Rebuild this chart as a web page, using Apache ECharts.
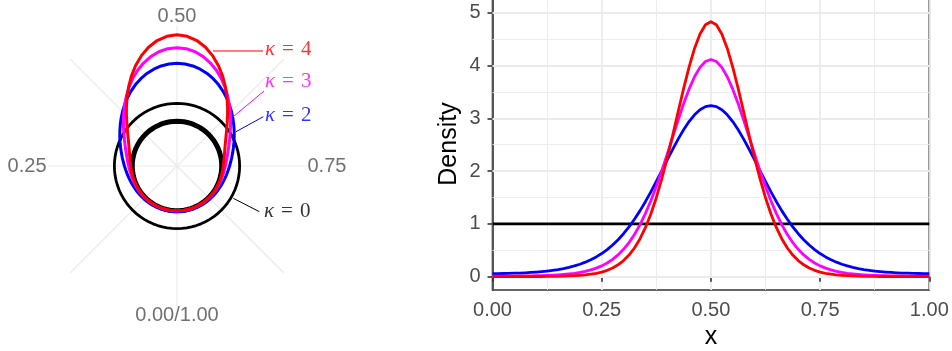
<!DOCTYPE html>
<html><head><meta charset="utf-8">
<script src="https://cdn.jsdelivr.net/npm/echarts@6/dist/echarts.min.js"></script>
<style>html,body{margin:0;padding:0;background:#fff}#c{width:952px;height:351px}</style>
</head><body><div id="c"></div>
<script>
// x grid (position on the circle / x axis)
const xs = [0,0.0125,0.025,0.0375,0.05,0.0625,0.075,0.0875,0.1,0.1125,
  0.125,0.1375,0.15,0.1625,0.175,0.1875,0.2,0.2125,0.225,0.2375,
  0.25,0.2625,0.275,0.2875,0.3,0.3125,0.325,0.3375,0.35,0.3625,
  0.375,0.3875,0.4,0.4125,0.425,0.4375,0.45,0.4625,0.475,0.4875,
  0.5,0.5125,0.525,0.5375,0.55,0.5625,0.575,0.5875,0.6,0.6125,
  0.625,0.6375,0.65,0.6625,0.675,0.6875,0.7,0.7125,0.725,0.7375,
  0.75,0.7625,0.775,0.7875,0.8,0.8125,0.825,0.8375,0.85,0.8625,
  0.875,0.8875,0.9,0.9125,0.925,0.9375,0.95,0.9625,0.975,0.9875,1];
// densities
const densK0 = [1,1,1,1,1,1,1,1,1,1, 1,1,1,1,1,1,1,1,1,1, 1,1,1,1,1,1,1,1,1,1, 1,1,1,1,1,1,1,1,1,1,
  1,1,1,1,1,1,1,1,1,1, 1,1,1,1,1,1,1,1,1,1, 1,1,1,1,1,1,1,1,1,1, 1,1,1,1,1,1,1,1,1,1, 1];
const densK2 = [0.059,0.060,0.061,0.063,0.066,0.069,0.074,0.080,0.087,0.096,
  0.107,0.120,0.135,0.154,0.177,0.204,0.236,0.275,0.321,0.375,
  0.439,0.513,0.600,0.700,0.814,0.943,1.088,1.247,1.421,1.608,
  1.804,2.007,2.212,2.414,2.607,2.784,2.939,3.067,3.163,3.222,
  3.241,
  3.222,3.163,3.067,2.939,2.784,2.607,2.414,2.212,2.007,1.804,
  1.608,1.421,1.247,1.088,0.943,0.814,0.700,0.600,0.513,0.439,
  0.375,0.321,0.275,0.236,0.204,0.177,0.154,0.135,0.120,0.107,
  0.096,0.087,0.080,0.074,0.069,0.066,0.063,0.061,0.060,0.059];
const densK3 = [0.010,0.010,0.011,0.011,0.012,0.013,0.014,0.016,0.018,0.021,
  0.025,0.029,0.035,0.043,0.053,0.065,0.081,0.102,0.128,0.162,
  0.205,0.259,0.328,0.413,0.518,0.646,0.800,0.982,1.195,1.438,
  1.709,2.006,2.320,2.645,2.968,3.275,3.553,3.788,3.966,4.077,
  4.115,
  4.077,3.966,3.788,3.553,3.275,2.968,2.645,2.320,2.006,1.709,
  1.438,1.195,0.982,0.800,0.646,0.518,0.413,0.328,0.259,0.205,
  0.162,0.128,0.102,0.081,0.065,0.053,0.043,0.035,0.029,0.025,
  0.021,0.018,0.016,0.014,0.013,0.012,0.011,0.011,0.010,0.010];
const densK4 = [0.002,0.002,0.002,0.002,0.002,0.002,0.003,0.003,0.003,0.004,
  0.005,0.007,0.008,0.011,0.014,0.019,0.026,0.035,0.047,0.065,
  0.088,0.121,0.165,0.225,0.305,0.409,0.544,0.715,0.929,1.189,
  1.497,1.853,2.250,2.679,3.124,3.563,3.972,4.325,4.599,4.772,
  4.831,
  4.772,4.599,4.325,3.972,3.563,3.124,2.679,2.250,1.853,1.497,
  1.189,0.929,0.715,0.544,0.409,0.305,0.225,0.165,0.121,0.088,
  0.065,0.047,0.035,0.026,0.019,0.014,0.011,0.008,0.007,0.005,
  0.004,0.003,0.003,0.003,0.002,0.002,0.002,0.002,0.002,0.002];
const baseCircle = [0,0,0,0,0,0,0,0,0,0, 0,0,0,0,0,0,0,0,0,0, 0,0,0,0,0,0,0,0,0,0, 0,0,0,0,0,0,0,0,0,0,
  0,0,0,0,0,0,0,0,0,0, 0,0,0,0,0,0,0,0,0,0, 0,0,0,0,0,0,0,0,0,0, 0,0,0,0,0,0,0,0,0,0, 0];

const seriesNames = ['κ = 0','κ = 2','κ = 3','κ = 4'];
const kappaValues = ['0','2','3','4'];
const seriesColors = ['#000000','#0000ff','#ff00ff','#ff0000'];

// tick labels
const angleTickValues = [0, 0.25, 0.5, 0.75];
const angleTickLabels = ['0.00/1.00', '0.25', '0.50', '0.75'];
const yTickValues = [0, 1, 2, 3, 4, 5];
const yMinorValues = [0.5, 1.5, 2.5, 3.5, 4.5];

// annotation positions on the circular panel: [density radius, x angle]
const annotTextPos = [[2.993,0.8270],[3.163,0.6675],[4.312,0.6284],[5.674,0.6028]];
const leaderFrom   = [[1.128,0.8329],[1.315,0.6662],[1.683,0.6355],[4.236,0.5483]];
const leaderTo     = [[2.762,0.8306],[3.056,0.6674],[3.921,0.6368],[5.527,0.6022]];
const angleLabelRadius = 5.88;

const densities = [densK0, densK2, densK3, densK4];
const polarPairs = v => xs.map((x,i) => [v[i], x]);
const cartPairs = v => xs.map((x,i) => [x, v[i]]);

const series = [];
// circular panel
series.push({type:'line', coordinateSystem:'polar', data: polarPairs(baseCircle), symbol:'none', smooth:false,
  lineStyle:{color:'#000', width:5}, silent:true, z:2});
densities.forEach((d,i) => {
  series.push({type:'line', coordinateSystem:'polar', name: seriesNames[i], data: polarPairs(d), symbol:'none', smooth:false,
    lineStyle:{color:seriesColors[i], width: i===0 ? 2.8 : 3, join:'round'}, silent:true, z:3});
});
seriesNames.forEach((n,i) => {
  series.push({type:'line', coordinateSystem:'polar', data:[leaderFrom[i], leaderTo[i]], symbol:'none',
    lineStyle:{color:seriesColors[i], width:1}, silent:true, z:3});
});
series.push({type:'scatter', coordinateSystem:'polar', symbolSize:0, silent:true, z:5,
  data: annotTextPos.map((p,i) => ({value:p, label:{
    show:true, position:'right', distance:0,
    formatter:'{k|κ}{e|=}{n|' + kappaValues[i] + '}',
    rich:{
      k:{fontFamily:'Liberation Serif', fontStyle:'italic', fontSize:21, color:seriesColors[i]},
      e:{fontFamily:'Liberation Serif', fontSize:21, color:seriesColors[i], padding:[0,7,0,7]},
      n:{fontFamily:'Liberation Serif', fontSize:21, color:seriesColors[i]}
    }}}))
});
series.push({type:'scatter', coordinateSystem:'polar', symbolSize:0, silent:true, z:5,
  data: angleTickValues.map((t,i) => ({value:[angleLabelRadius, t], label:{
    show:true, position:'inside', formatter: angleTickLabels[i], color:'#4d4d4d', fontSize:20,
    fontFamily:'Liberation Sans', backgroundColor:'#ffffff', padding:[0,1]}}))
});
// cartesian panel
densities.forEach((d,i) => {
  const s = {type:'line', name: seriesNames[i], data: cartPairs(d), symbol:'none', smooth:false,
    lineStyle:{color:seriesColors[i], width:2.8, join:'round'}, silent:true, z:3};
  if (i === 0) {
    s.markLine = {silent:true, z:1, symbol:['none','none'], label:{show:false}, animation:false,
      lineStyle:{color:'#ebebeb', type:'solid'}, emphasis:{disabled:true},
      data: yTickValues.map(v => ({yAxis:v, lineStyle:{color:'#ebebeb', width:1.8, type:'solid'}}))
        .concat(yMinorValues.map(v => ({yAxis:v, lineStyle:{color:'#ebebeb', width:0.9, type:'solid'}})))};
  }
  series.push(s);
});

const axisDark = {color:'#333333', width:1.6};
const option = {
  animation:false,
  textStyle:{fontFamily:'Liberation Sans'},
  polar:{center:[177,166], radius:[0,151]},
  angleAxis:{type:'value', min:0, max:1, interval:0.25, startAngle:270, clockwise:true,
    axisLine:{show:false}, axisTick:{show:false}, axisLabel:{show:false},
    splitLine:{show:true, lineStyle:{color:'#ebebeb', width:1.2}},
    minorTick:{show:false, splitNumber:2},
    minorSplitLine:{show:true, lineStyle:{color:'#ebebeb', width:1.2}}},
  radiusAxis:{type:'value', min:-2.5, max:5.94, axisLine:{show:false}, axisTick:{show:false},
    axisLabel:{show:false}, splitLine:{show:false}},
  grid:{left:492.5, right:22.7, top:-2, bottom:61, show:true, borderColor:'#333333', borderWidth:1.6,
    backgroundColor:'transparent', containLabel:false, outerBoundsMode:'none'},
  xAxis:{type:'value', min:0, max:1, interval:0.25,
    axisLine:{show:true, lineStyle:axisDark}, axisTick:{show:true, length:5, lineStyle:axisDark},
    axisLabel:{formatter:v => v.toFixed(2), fontSize:20, color:'#4d4d4d', margin:10},
    splitLine:{show:true, lineStyle:{color:'#ebebeb', width:1.8}},
    minorTick:{show:false, splitNumber:2},
    minorSplitLine:{show:true, lineStyle:{color:'#ebebeb', width:0.9}},
    name:'x', nameLocation:'middle', nameGap:33, nameTextStyle:{fontSize:25, color:'#000'}},
  yAxis:{type:'value', min:-0.252, max:5.28,
    axisLine:{show:true, lineStyle:axisDark},
    axisTick:{show:true, length:5, lineStyle:axisDark, customValues:yTickValues},
    axisLabel:{customValues:yTickValues, fontSize:20, color:'#4d4d4d', margin:12, formatter:v => String(v)},
    splitLine:{show:false},
    name:'Density', nameLocation:'middle', nameRotate:90, nameGap:31, nameTextStyle:{fontSize:25, color:'#000'}},
  series: series
};
const chart = echarts.init(document.getElementById('c'), null, {renderer:'canvas'});
chart.setOption(option);
</script></body></html>
